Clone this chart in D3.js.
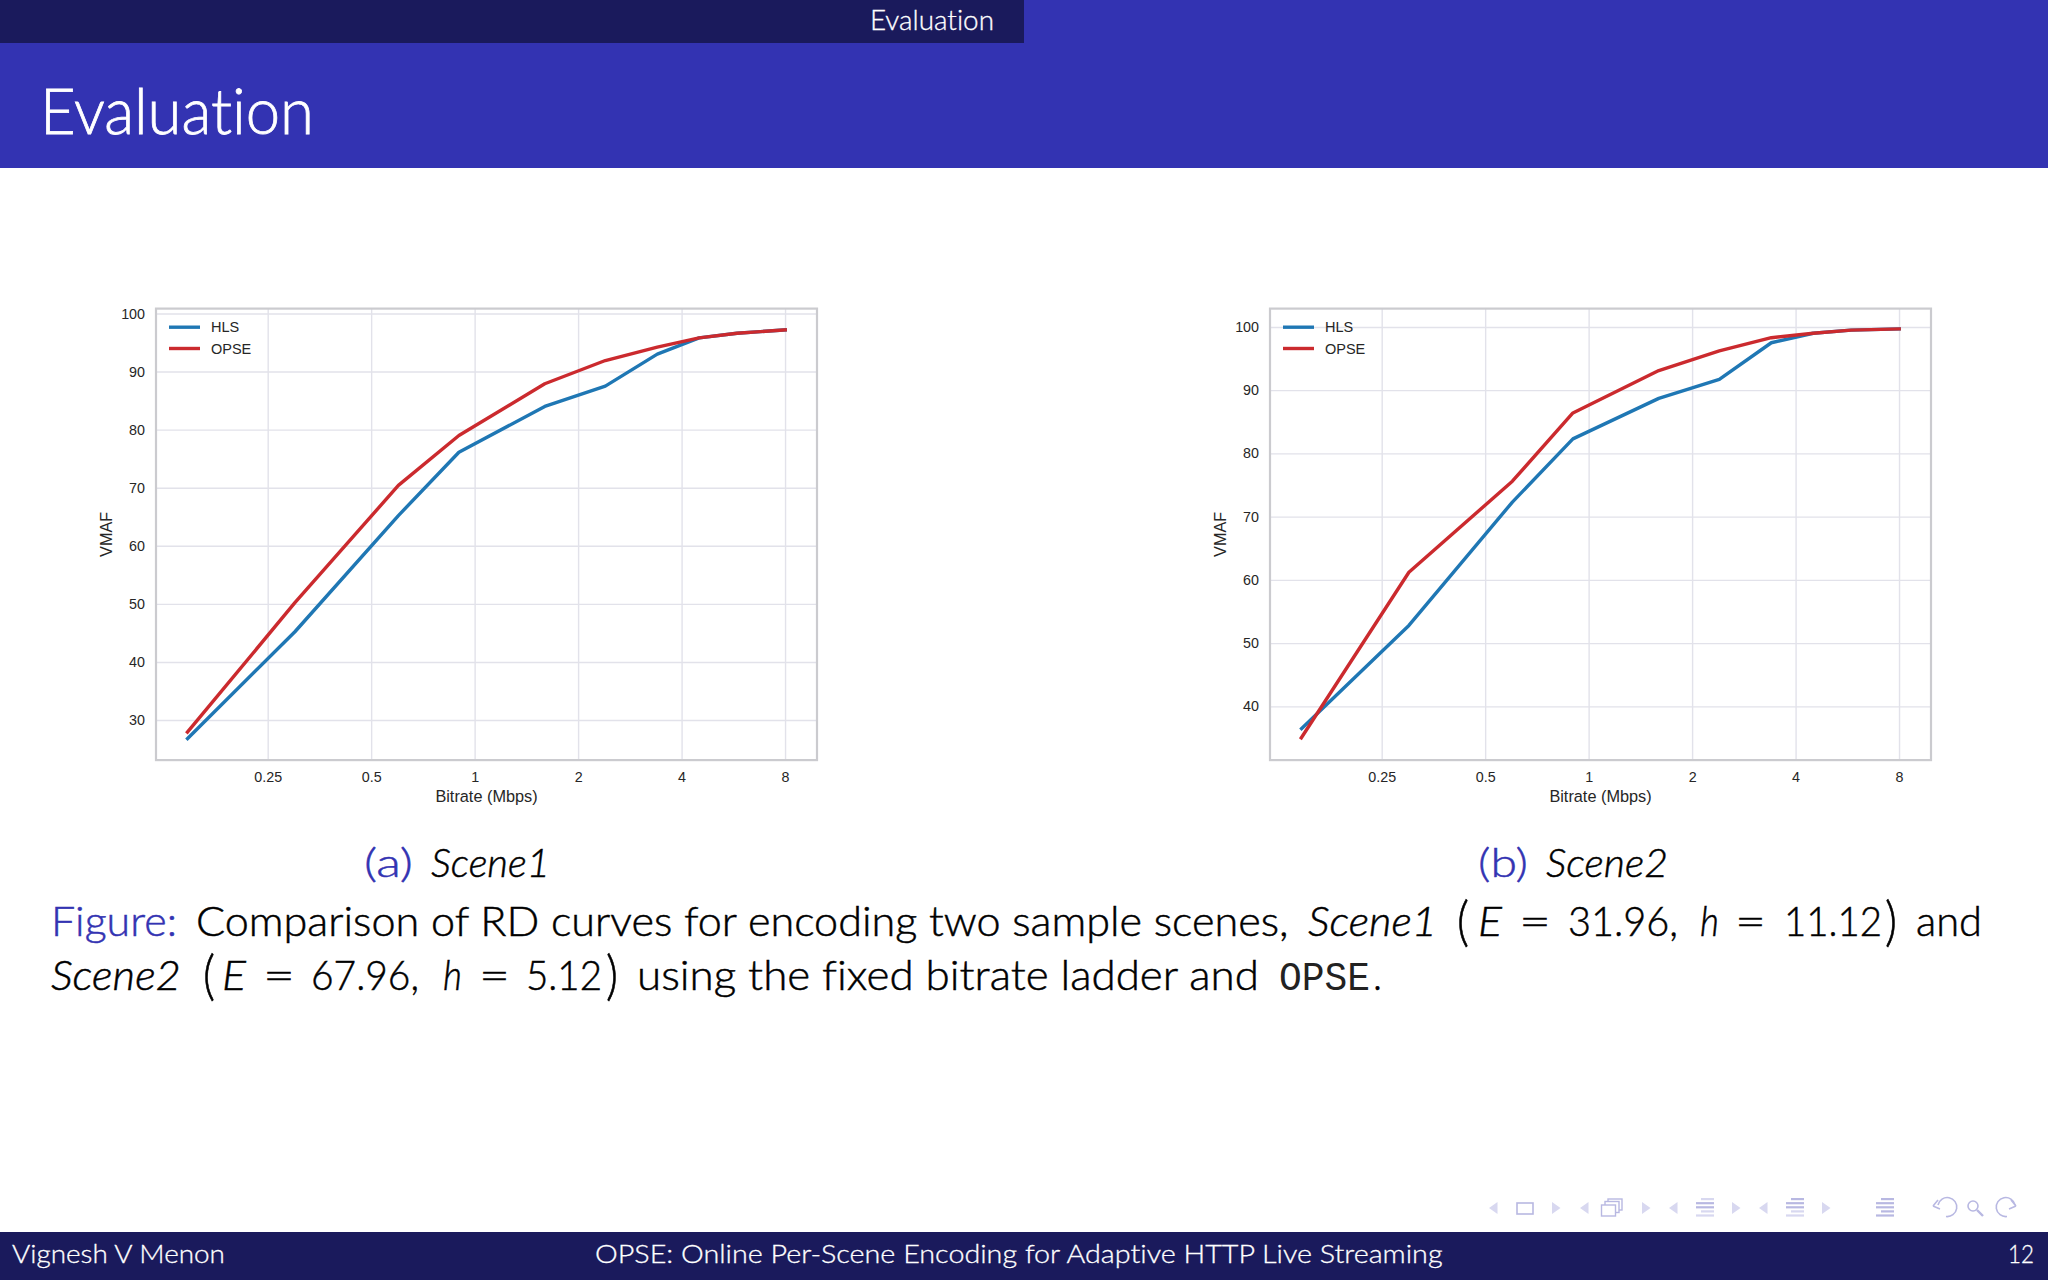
<!DOCTYPE html>
<html>
<head>
<meta charset="utf-8">
<script src="https://d3js.org/d3.v7.min.js"></script>
<style>
  html, body { margin: 0; padding: 0; background: #fff; }
  svg { display: block; }
  .slide text { font-family: Lato, "Open Sans", sans-serif; font-variant-ligatures: none; }
  .slide .chart text { font-family: "Liberation Sans", Arial, sans-serif; fill: #262626; }
</style>
</head>
<body>
<svg id="slide" class="slide" width="2048" height="1280"></svg>
<script>
// bitrate ladder (Mbps)
var bitrates = [0.145, 0.3, 0.6, 0.9, 1.6, 2.4, 3.4, 4.5, 5.8, 8.1];

var scene1Hls  = [26.6, 45.2, 65.2, 76.1, 84.0, 87.5, 93.0, 95.8, 96.6, 97.2];
var scene1Opse = [27.7, 50.2, 70.4, 79.0, 87.9, 91.9, 94.2, 95.8, 96.6, 97.2];
var scene2Hls  = [36.3, 52.8, 72.3, 82.3, 88.7, 91.7, 97.5, 99.0, 99.5, 99.7];
var scene2Opse = [34.8, 61.2, 75.6, 86.4, 93.1, 96.2, 98.3, 99.0, 99.5, 99.7];

var xTicks = [0.25, 0.5, 1, 2, 4, 8];
var xTickLabels = ["0.25", "0.5", "1", "2", "4", "8"];
var scene1YTicks = [30, 40, 50, 60, 70, 80, 90, 100];
var scene2YTicks = [40, 50, 60, 70, 80, 90, 100];
var seriesNames = ["HLS", "OPSE"];
var seriesColors = ["#1f77b4", "#cb2a2e"];

var svg = d3.select("#slide");
var dark = "#1a1a5c", blue = "#3333b2", black = "#000";

// text squeezed or stretched to the span it has in the slide
// light face plus a thin outline gets closer to the slide's sans weight
function put(str, x0, x1, y, size, fill, opts) {
  opts = opts || {};
  var t = svg.append("text")
    .attr("font-size", size)
    .attr("fill", fill)
    .attr("font-weight", 300)
    .text(str);
  if (opts.italic) t.attr("font-style", "italic");
  if (opts.mono) t.style("font-family", '"Liberation Mono", monospace').attr("font-weight", 400);
  else t.attr("stroke", fill).attr("stroke-width", size * 0.012);
  var sx = (x1 - x0) / t.node().getComputedTextLength();
  t.attr("transform", "translate(" + x0 + "," + y + ") scale(" + sx + ",1)");
  return t;
}

// beamer frame
svg.append("rect").attr("width", 2048).attr("height", 168).attr("fill", blue);
svg.append("rect").attr("width", 1024).attr("height", 43).attr("fill", dark);
svg.append("rect").attr("y", 1232).attr("width", 2048).attr("height", 48).attr("fill", dark);

put("Evaluation", 870, 994, 30, 27, "#fff");
put("Evaluation", 40, 314, 134, 64, "#fff");
put("Vignesh V Menon", 12, 225, 1263, 26, "#fff");
put("OPSE: Online Per-Scene Encoding for Adaptive HTTP Live Streaming", 595, 1443, 1263, 26, "#fff");
put("12", 2008, 2034, 1263, 26, "#fff");

function drawChart(left, yDomain, yTicks, hls, opse) {
  var width = 661, height = 451.5;
  var x = d3.scaleLog().base(2).domain([0.1183, 9.91]).range([0, width]);
  var y = d3.scaleLinear().domain(yDomain).range([height, 0]);

  var g = svg.append("g").attr("class", "chart")
    .attr("transform", "translate(" + left + ",308.6)");

  var xAxis = d3.axisBottom(x).tickValues(xTicks)
    .tickFormat(function(d, i) { return xTickLabels[i]; })
    .tickSize(-height);
  var yAxis = d3.axisLeft(y).tickValues(yTicks)
    .tickSize(-width).tickPadding(11);

  var gx = g.append("g").attr("transform", "translate(0," + height + ")").call(xAxis);
  var gy = g.append("g").call(yAxis);
  [gx, gy].forEach(function(a) {
    a.select(".domain").remove();
    a.selectAll("line").attr("stroke", "#e2e2ea").attr("stroke-width", 1.4);
    a.selectAll("text").attr("font-size", 14.3);
  });
  gx.selectAll("text").attr("y", 22).attr("dy", 0);

  g.append("rect").attr("width", width).attr("height", height)
    .attr("fill", "none").attr("stroke", "#cbcbcf").attr("stroke-width", 2.2);

  var line = d3.line()
    .x(function(d, i) { return x(bitrates[i]); })
    .y(function(d) { return y(d); });

  [hls, opse].forEach(function(vals, i) {
    g.append("path").datum(vals)
      .attr("d", line)
      .attr("fill", "none")
      .attr("stroke", seriesColors[i])
      .attr("stroke-width", 3.4)
      .attr("stroke-linejoin", "round");
  });

  g.append("text").attr("x", width / 2).attr("y", 493)
    .attr("text-anchor", "middle").attr("font-size", 16.3).text("Bitrate (Mbps)");
  g.append("text")
    .attr("transform", "translate(-44," + height / 2 + ") rotate(-90)")
    .attr("text-anchor", "middle").attr("font-size", 16.3).text("VMAF");

  var legend = g.selectAll(".leg").data(seriesNames).enter().append("g")
    .attr("class", "leg")
    .attr("transform", function(d, i) { return "translate(13," + (18.6 + i * 21.3) + ")"; });
  legend.append("line").attr("x2", 31)
    .attr("stroke", function(d, i) { return seriesColors[i]; })
    .attr("stroke-width", 3.4);
  legend.append("text").attr("x", 42).attr("dy", "0.35em")
    .attr("font-size", 14.5).text(function(d) { return d; });
}

drawChart(156, [23.1, 100.84], scene1YTicks, scene1Hls, scene1Opse);
drawChart(1270, [31.5, 102.9], scene2YTicks, scene2Hls, scene2Opse);

// sub captions
put("(a)", 364, 413, 877, 40, blue);
put("Scene1", 431, 550, 877, 40, black, {italic: true});
put("(b)", 1478, 1528, 877, 40, blue);
put("Scene2", 1546, 1668, 877, 40, black, {italic: true});

// caption, line 1
put("Figure:", 51, 177, 936, 41, blue);
put("Comparison of RD curves for encoding two sample scenes,", 196, 1289, 936, 41, black);
put("Scene1", 1308, 1437, 936, 41, black, {italic: true});
put("(", 1457, 1469, 940, 54, black);
put("E", 1478, 1502, 936, 41, black, {italic: true});
put("=", 1519, 1551, 936, 41, black);
put("31.96,", 1568, 1678, 936, 41, black);
put("h", 1700, 1719, 936, 41, black, {italic: true});
put("=", 1735, 1766, 936, 41, black);
put("11.12", 1784, 1882, 936, 41, black);
put(")", 1885, 1897, 940, 54, black);
put("and", 1916, 1982, 936, 41, black);

// caption, line 2
put("Scene2", 51, 181, 990, 41, black, {italic: true});
put("(", 203, 215, 994, 54, black);
put("E", 222, 246, 990, 41, black, {italic: true});
put("=", 263, 295, 990, 41, black);
put("67.96,", 311, 419, 990, 41, black);
put("h", 443, 462, 990, 41, black, {italic: true});
put("=", 479, 510, 990, 41, black);
put("5.12", 526, 602, 990, 41, black);
put(")", 606, 618, 994, 54, black);
put("using the fixed bitrate ladder and", 637, 1259, 990, 41, black);
put("OPSE", 1279, 1370, 990, 41, "#222", {mono: true});
put(".", 1373, 1382, 990, 41, black);

// beamer navigation symbols
var nav = svg.append("g").attr("id", "nav");
var navLight = "#d8d8f0", navMid = "#b8b8e2";
[1489, 1580, 1669, 1759].forEach(function(px) {
  nav.append("path").attr("d", "M" + (px + 8.5) + " 1202 L" + px + " 1208 L" + (px + 8.5) + " 1214 Z").attr("fill", navLight);
});
[1552, 1642, 1732, 1822].forEach(function(px) {
  nav.append("path").attr("d", "M" + px + " 1202 L" + (px + 8.5) + " 1208 L" + px + " 1214 Z").attr("fill", navLight);
});
nav.append("rect").attr("x", 1517).attr("y", 1203).attr("width", 16).attr("height", 11)
  .attr("fill", "none").attr("stroke", navMid).attr("stroke-width", 1.6);
[[1608, 1199], [1605, 1201.5], [1601.5, 1205]].forEach(function(p) {
  nav.append("rect").attr("x", p[0]).attr("y", p[1]).attr("width", 14).attr("height", 11)
    .attr("fill", "#fff").attr("stroke", navMid).attr("stroke-width", 1.4);
});
var listStates = [
  {x: 1696, c: [navLight, navMid, navMid, navLight, navLight]},
  {x: 1786, c: [navMid, navMid, navMid, navLight, navLight]},
  {x: 1876, c: [navMid, navMid, navMid, navMid, navMid]}
];
listStates.forEach(function(ls) {
  [13, 18, 18, 13, 18].forEach(function(w, i) {
    nav.append("rect").attr("x", ls.x + 18 - w)
      .attr("y", 1198 + i * 4.1).attr("width", w).attr("height", 2.2)
      .attr("fill", ls.c[i]);
  });
});
// back, find, forward
nav.append("path").attr("d", "M1938 1205 A9.5 9.5 0 1 1 1946 1216.5").attr("fill", "none").attr("stroke", navMid).attr("stroke-width", 1.6);
nav.append("path").attr("d", "M1933 1206 L1938 1200 M1933 1206 L1940 1209").attr("fill", "none").attr("stroke", navMid).attr("stroke-width", 1.6);
nav.append("circle").attr("cx", 1973).attr("cy", 1206).attr("r", 5).attr("fill", "none").attr("stroke", navMid).attr("stroke-width", 1.6);
nav.append("path").attr("d", "M1977 1210 L1983 1216").attr("stroke", navMid).attr("stroke-width", 2.4);
nav.append("path").attr("d", "M2015 1205 A9.5 9.5 0 1 0 2007 1216.5").attr("fill", "none").attr("stroke", navMid).attr("stroke-width", 1.6);
nav.append("path").attr("d", "M2016 1206 L2011 1200 M2016 1206 L2009 1209").attr("fill", "none").attr("stroke", navMid).attr("stroke-width", 1.6);
</script>
</body>
</html>
